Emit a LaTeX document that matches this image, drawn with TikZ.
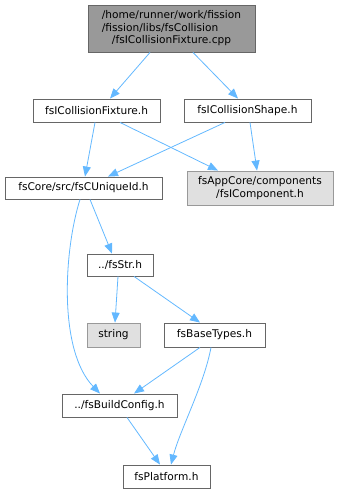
\documentclass[tikz,border=0pt]{standalone}
\usepackage{fontspec}
\setmainfont{DejaVu Sans}
\usetikzlibrary{arrows.meta,calc}
\definecolor{edgeblue}{HTML}{63B8FF}
\definecolor{bordergray}{HTML}{666666}
\definecolor{lightborder}{HTML}{999999}
\definecolor{topfill}{HTML}{999999}
\definecolor{extfill}{HTML}{E0E0E0}
\begin{document}
\begin{tikzpicture}[x=1pt,y=-1pt,
  font=\fontsize{10.6}{12.5}\selectfont,
  filebox/.style={draw=bordergray,fill=white,line width=0.9pt,inner sep=0pt,
    minimum width=#1,minimum height=23pt},
  extbox/.style={draw=lightborder,fill=extfill,line width=0.9pt,inner sep=0pt,
    minimum width=#1,minimum height=24pt},
  dep/.style={draw=edgeblue,line width=0.8pt,-{Triangle[length=10pt,width=8pt]}}]
\useasboundingbox (0,0) rectangle (343,493);
% nodes
\node[draw=bordergray,fill=topfill,line width=0.9pt,inner sep=0pt,minimum width=167pt,minimum height=47pt] (top) at (171.5,28.5)
  {\begin{tabular}{@{}l@{}}/home/runner/work/fission\\/fission/libs/fsCollision\\\multicolumn{1}{@{}c@{}}{/fsICollisionFixture.cpp}\end{tabular}};
\node[filebox=127pt] (fix) at (96.5,110.5) {fsICollisionFixture.h};
\node[filebox=127pt] (shape) at (247.5,110.5) {fsICollisionShape.h};
\node[filebox=157pt,minimum height=22pt] (uid) at (83.5,188) {fsCore/src/fsCUniqueId.h};
\node[extbox=146pt,minimum height=34pt,align=center] (comp) at (260,188) {fsAppCore/components\\/fsIComponent.h};
\node[filebox=66pt,minimum height=22pt] (str) at (120,265) {../fsStr.h};
\node[extbox=53pt] (string) at (113.5,335) {string};
\node[filebox=101pt,minimum height=24pt] (base) at (214.5,335) {fsBaseTypes.h};
\node[filebox=115pt] (build) at (119.5,405.5) {../fsBuildConfig.h};
\node[filebox=87pt] (plat) at (166.5,476.5) {fsPlatform.h};
% edges
\draw[dep] ($(top.south)+(-21.5,0)$) -- ($(fix.north)+(13.5,0)$);
\draw[dep] ($(top.south)+(21.5,0)$) -- ($(shape.north)+(-9.5,0)$);
\draw[dep] ($(fix.south)+(-1.5,0)$) -- ($(uid.north)+(1.5,0)$);
\draw[dep] ($(fix.south)+(23.5,0)$) -- ($(comp.north)+(-42,0)$);
\draw[dep] ($(shape.south)+(-22.5,0)$) -- ($(uid.north)+(24.5,0)$);
\draw[dep] ($(shape.south)+(2.5,0)$) -- ($(comp.north)+(-3,0)$);
\draw[dep] ($(uid.south)+(6.5,0)$) -- ($(str.north)+(-8,0)$);
\draw[dep] ($(uid.south)+(-3.5,0)$) .. controls (64,250) and (58,350) .. ($(build.north)+(-19.5,0)$);
\draw[dep] ($(str.south)+(-2,0)$) -- ($(string.north)+(1.5,0)$);
\draw[dep] ($(str.south)+(14,0)$) -- ($(base.north)+(-14.5,0)$);
\draw[dep] ($(base.south)+(-14.5,0)$) -- ($(build.north)+(14.5,0)$);
\draw[dep] ($(base.south)+(-3.5,0)$) .. controls (204,385) and (180,430) .. ($(plat.north)+(4.5,0)$);
\draw[dep] ($(build.south)+(7.5,0)$) -- ($(plat.north)+(-6.5,0)$);
\end{tikzpicture}
\end{document}
